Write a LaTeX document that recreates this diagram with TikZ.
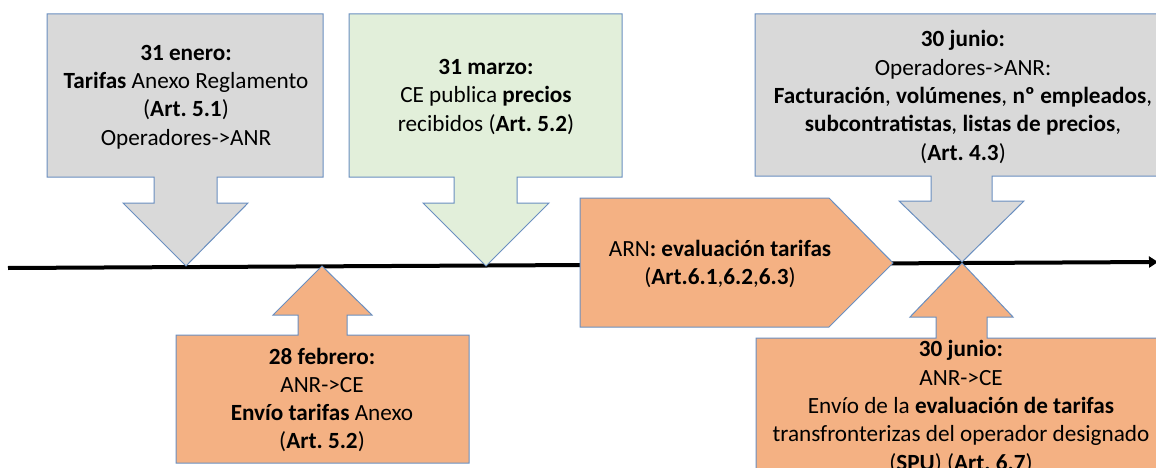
\documentclass[tikz,border=0pt]{standalone}
\usepackage{fontspec}
\setmainfont{Carlito}
\usetikzlibrary{arrows.meta}
\definecolor{gris}{HTML}{D9D9D9}
\definecolor{verde}{HTML}{E2EFDA}
\definecolor{naranja}{HTML}{F4B183}
\definecolor{borde}{HTML}{6A8FC0}
\frenchspacing

\begin{document}
\begin{tikzpicture}[x=1pt,y=-1pt,
  callout/.style={draw=borde,line width=1pt},
  etiqueta/.style={align=center,font=\fontsize{23.2}{28.3}\selectfont,inner sep=0pt}]
\useasboundingbox (0,0) rectangle (1156,468);
\clip (0,0) rectangle (1156,468);

% linea de tiempo
\coordinate (inicio) at (8,268);
\coordinate (fin) at (1158,262);
\draw[line width=4pt,-{Triangle[length=9pt,width=11pt]}] (inicio) -- (fin);

% 31 enero
\draw[callout,fill=gris] (47,14) -- (323,14) -- (323,177) -- (217,177) -- (217,203) -- (248,203)
  -- (186,266) -- (123,203) -- (154,203) -- (154,177) -- (47,177) -- cycle;
\node[etiqueta] (enero) at (186,97) {\textbf{31 enero:}\\ \textbf{Tarifas} Anexo Reglamento\\
  (\textbf{Art. 5.1})\\ Operadores->ANR};

% 31 marzo
\draw[callout,fill=verde] (349,14) -- (622,14) -- (622,177) -- (517,177) -- (517,203) -- (549,203)
  -- (486,266) -- (423,203) -- (454,203) -- (454,177) -- (349,177) -- cycle;
\node[etiqueta] (marzo) at (486,97) {\textbf{31 marzo:}\\ CE publica \textbf{precios}\\
  recibidos (\textbf{Art. 5.2})};

% 30 junio, operadores
\draw[callout,fill=gris] (755,14) -- (1170,14) -- (1170,176) -- (992,176) -- (992,201) -- (1024,201)
  -- (962,262) -- (899,201) -- (931,201) -- (931,176) -- (755,176) -- cycle;
\node[etiqueta] (junioOp) at (963,97) {\textbf{30 junio:}\\ Operadores->ANR:\\
  \textbf{Facturación}, \textbf{volúmenes}, \textbf{nº empleados},\\
  \textbf{subcontratistas}, \textbf{listas de precios},\\ (\textbf{Art. 4.3})};

% 28 febrero
\draw[callout,fill=naranja] (176,463) -- (176,335) -- (298,335) -- (298,315) -- (273,315) -- (322,266)
  -- (372,315) -- (347,315) -- (347,335) -- (469,335) -- (469,463) -- cycle;
\node[etiqueta] (febrero) at (322,400) {\textbf{28 febrero:}\\ ANR->CE\\
  \textbf{Envío tarifas} Anexo\\ (\textbf{Art. 5.2})};

% evaluacion ARN
\draw[callout,fill=naranja] (580,198) -- (829,198) -- (893,263) -- (829,327) -- (580,327) -- cycle;
\node[etiqueta] (evaluacion) at (720,264) {ARN\textbf{: evaluación tarifas}\\
  (\textbf{Art.6.1},\textbf{6.2},\textbf{6.3})};

% 30 junio, ANR->CE
\draw[callout,fill=naranja] (756,480) -- (756,338) -- (936,338) -- (936,317) -- (910,317) -- (962,263)
  -- (1013,317) -- (987,317) -- (987,338) -- (1170,338) -- (1170,480) -- cycle;
\node[etiqueta] (junioCE) at (961,407) {\textbf{30 junio:}\\ ANR->CE\\
  Envío de la \textbf{evaluación de tarifas}\\ transfronterizas del operador designado\\
  (\textbf{SPU}) (\textbf{Art. 6.7})};
\end{tikzpicture}
\end{document}
